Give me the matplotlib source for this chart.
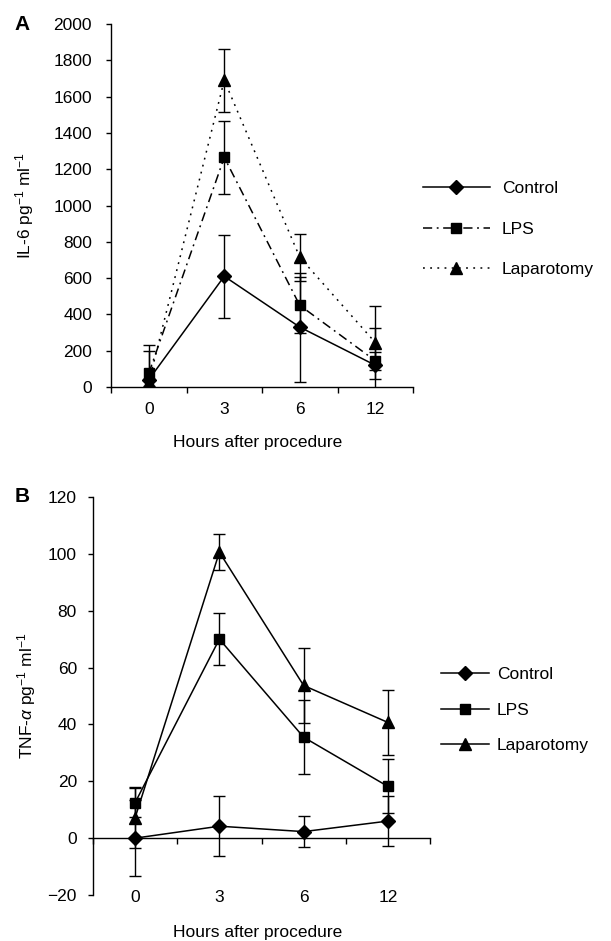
import numpy as np
import matplotlib
matplotlib.use('Agg')
import matplotlib.pyplot as plt

plt.rcParams['font.family'] = ['Liberation Sans', 'DejaVu Sans']
plt.rcParams['mathtext.fontset'] = 'custom'
plt.rcParams['mathtext.rm'] = 'Liberation Sans'
plt.rcParams['mathtext.it'] = 'Liberation Sans:italic'
plt.rcParams['mathtext.bf'] = 'Liberation Sans:bold'

# datos
horas = ['0', '3', '6', '12']
grupos = ['Control', 'LPS', 'Laparotomy']

il6_control = [40, 610, 330, 120]
il6_control_err = [160, 230, 300, 205]
il6_lps = [75, 1265, 450, 145]
il6_lps_err = [155, 200, 155, 50]
il6_lap = [25, 1690, 715, 245]
il6_lap_err = [20, 175, 130, 200]

tnf_control = [0, 4.2, 2.3, 6.0]
tnf_control_err = [13.3, 10.6, 5.5, 8.7]
tnf_lps = [12.5, 70, 35.5, 18.2]
tnf_lps_err = [5.2, 9.2, 13, 9.5]
tnf_lap = [7.2, 100.6, 53.7, 40.7]
tnf_lap_err = [10.8, 6.3, 13.3, 11.3]

marcadores = ['D', 's', '^']
tam_marcador = [7, 7, 8.5]
FS = 12.5


def panel(ax, medias, errores, estilos, ylim, yticks, ylabel, pad_y,
          cero_en_medio, off_lbl, off_xlabel, leg_pos, leg_hl, leg_tp, leg_ls):
    x = np.arange(len(horas))
    lineas = []
    for i in range(3):
        ax.errorbar(x, medias[i], yerr=errores[i], fmt='none', ecolor='black',
                    elinewidth=1.0, capsize=4.5, capthick=1.0, zorder=2)
        l, = ax.plot(x, medias[i], color='black', lw=1.1, marker=marcadores[i],
                     ms=tam_marcador[i], mfc='black', mec='black',
                     label=grupos[i], zorder=3)
        if estilos[i] is not None:
            l.set_dashes(estilos[i])
        lineas.append(l)

    ax.set_xlim(-0.5, len(horas) - 0.5)
    ax.set_ylim(ylim)
    ax.set_yticks(yticks)
    ax.set_xticks(np.arange(len(horas) + 1) - 0.5)
    ax.set_xticklabels([])
    ax.spines['top'].set_visible(False)
    ax.spines['right'].set_visible(False)
    if cero_en_medio:
        ax.spines['bottom'].set_position(('data', 0))
    ax.tick_params(axis='y', length=3.6, width=1.0, pad=pad_y, labelsize=FS)
    ax.tick_params(axis='x', length=4.5, width=1.0, direction='out')
    for s in ['left', 'bottom']:
        ax.spines[s].set_linewidth(1.0)

    # etiquetas de las categorias debajo del eje
    for i, h in enumerate(horas):
        ax.annotate(h, xy=(i, 0), xycoords=('data', 'axes fraction'),
                    xytext=(0, off_lbl), textcoords='offset points',
                    ha='center', va='center', fontsize=FS)
    ax.annotate('Hours after procedure', xy=(0.5, 0), xycoords='axes fraction',
                xytext=(-3, off_xlabel), textcoords='offset points',
                ha='center', va='center', fontsize=FS)
    ax.set_ylabel(ylabel, fontsize=FS)

    ax.legend(handles=lineas, loc='center left', bbox_to_anchor=leg_pos,
              bbox_transform=ax.figure.transFigure, frameon=False,
              numpoints=1, handlelength=leg_hl, handletextpad=leg_tp,
              labelspacing=leg_ls, borderpad=0, borderaxespad=0, fontsize=FS)


fig = plt.figure(figsize=(6.11, 9.41), dpi=100)

axA = fig.add_axes([111 / 611, 1 - 387 / 941, 302 / 611, 363 / 941])
panel(axA, [il6_control, il6_lps, il6_lap],
      [il6_control_err, il6_lps_err, il6_lap_err],
      [None, (6, 3, 1.2, 3), (1.2, 3.5)],
      (0, 2000), np.arange(0, 2001, 200),
      r'IL-6 pg$^{\mathregular{-1}}$ ml$^{\mathregular{-1}}$', 10,
      False, -16.5, -40, (423 / 611, 1 - 229 / 941), 3.85, 0.7, 1.48)
axA.yaxis.set_label_coords(-0.248, 0.5)

axB = fig.add_axes([93 / 611, 1 - 895 / 941, 337 / 611, 398 / 941])
panel(axB, [tnf_control, tnf_lps, tnf_lap],
      [tnf_control_err, tnf_lps_err, tnf_lap_err],
      [None, None, None],
      (-20, 120), np.arange(-20, 121, 20),
      r'TNF-$\alpha$ pg$^{\mathregular{-1}}$ ml$^{\mathregular{-1}}$', 8,
      True, -1.5, -27, (441 / 611, 1 - 710 / 941), 2.76, 0.46, 1.18)
axB.yaxis.set_label_coords(-0.163, 0.5)

fig.text(22 / 611, 1 - 24 / 941, 'A', fontsize=15, fontweight='bold',
         ha='center', va='center')
fig.text(22 / 611, 1 - 497 / 941, 'B', fontsize=15, fontweight='bold',
         ha='center', va='center')

fig.savefig('out.png', dpi=100)
